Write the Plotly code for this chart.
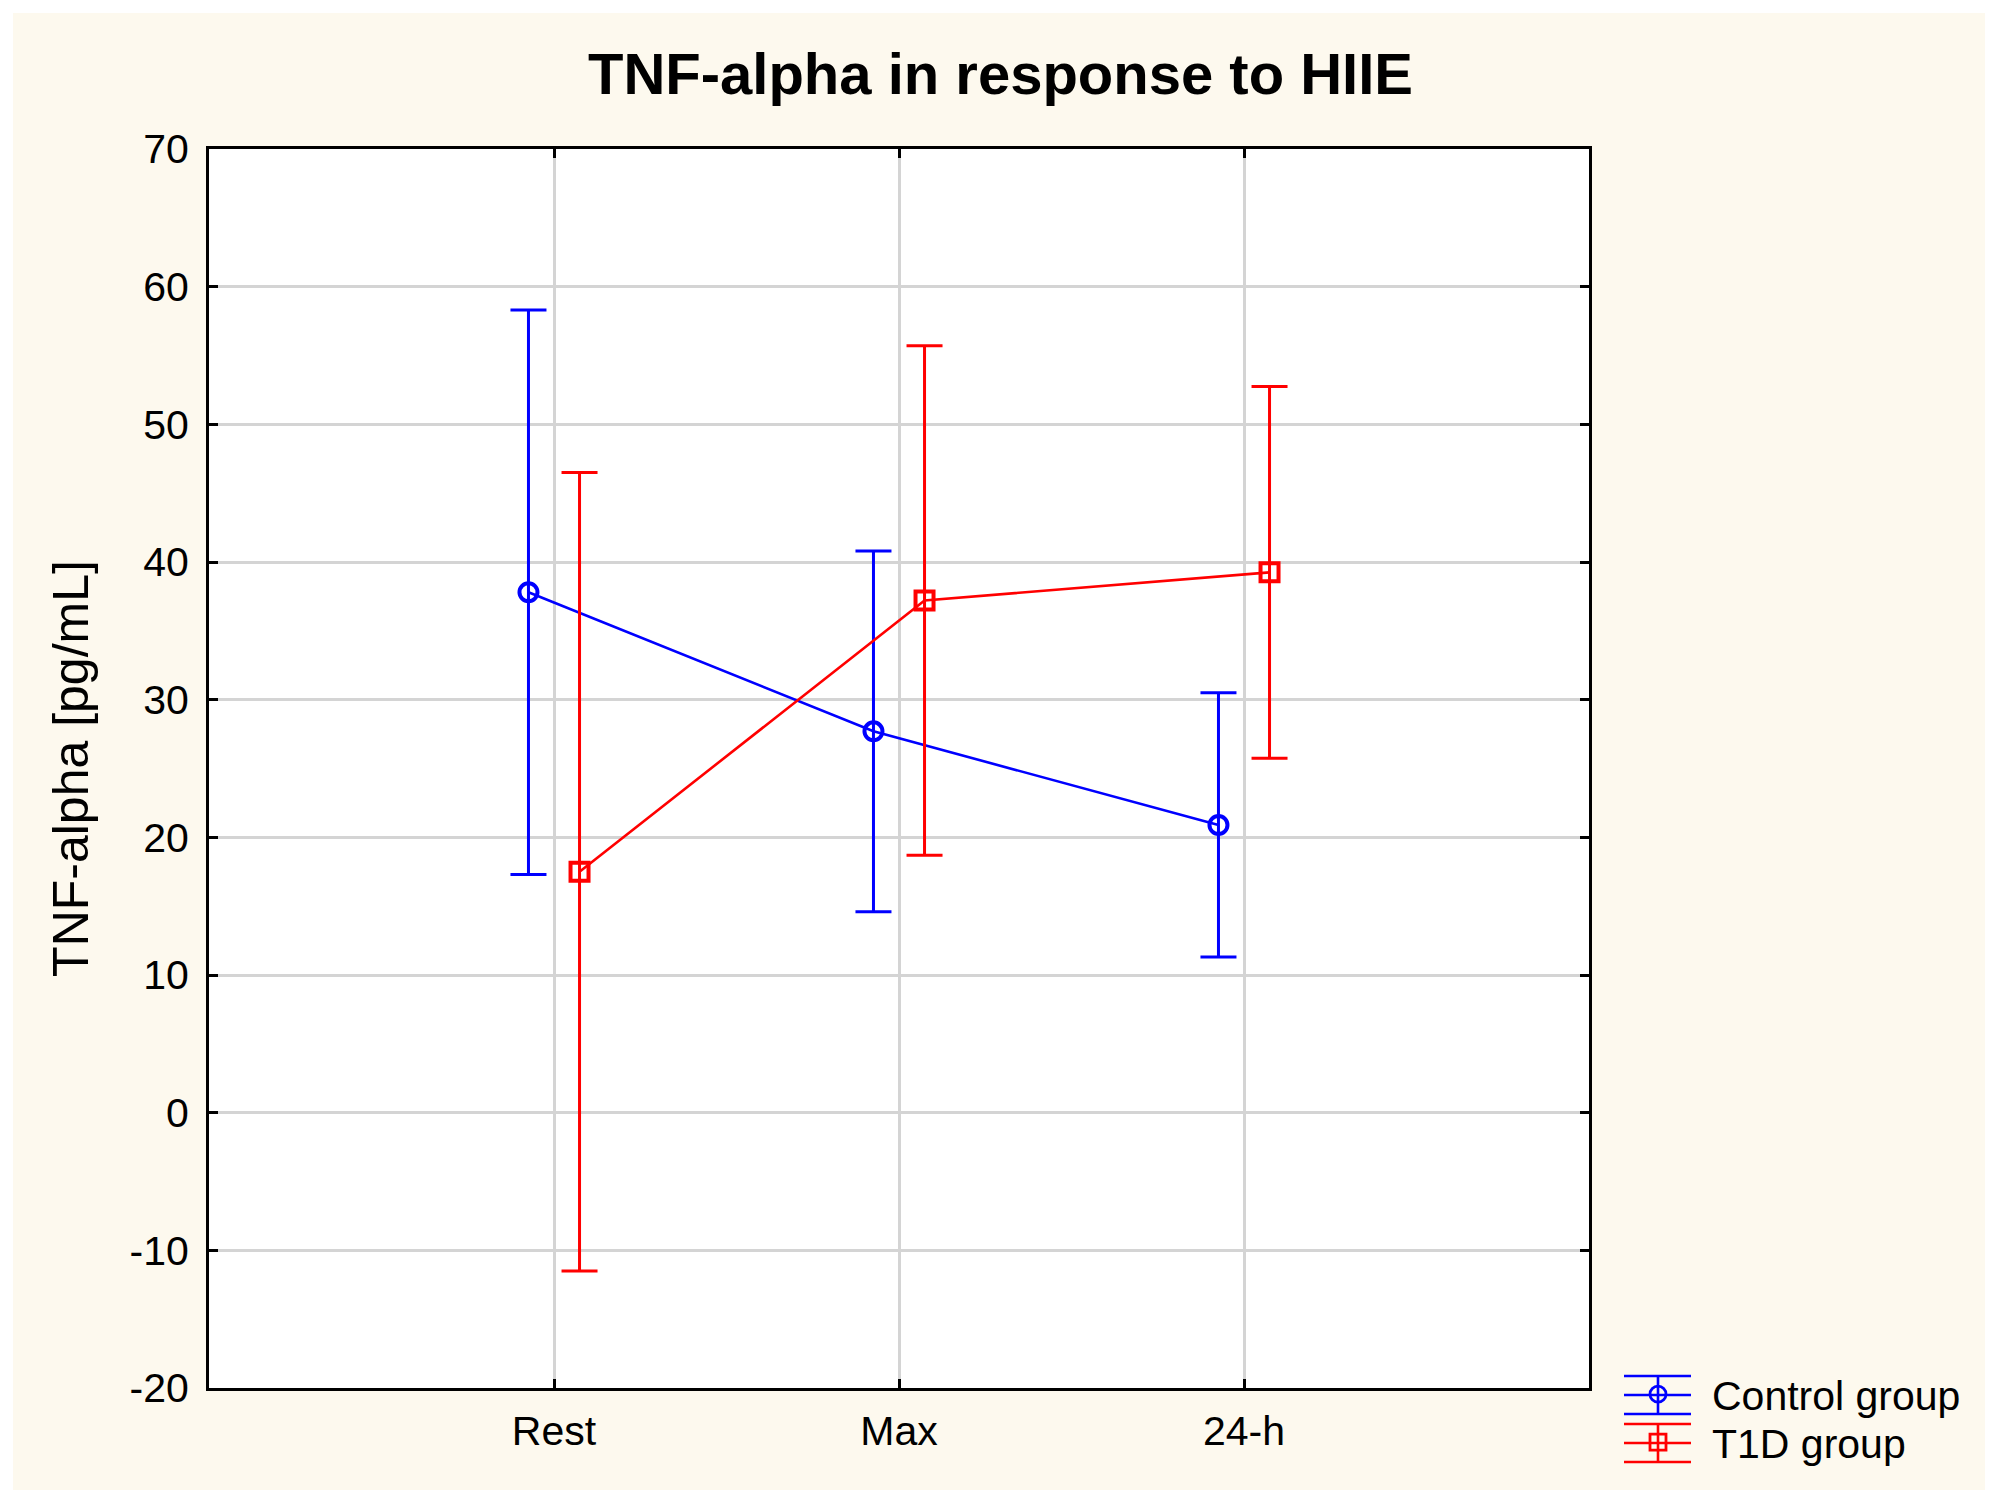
import plotly.graph_objects as go

# ---- data ----
categories = ["Rest", "Max", "24-h"]
control_mean = [37.8, 27.7, 20.9]
control_err = [20.5, 13.1, 9.6]
t1d_mean = [17.5, 37.2, 39.25]
t1d_err = [29.0, 18.5, 13.5]
y_ticks = [-20, -10, 0, 10, 20, 30, 40, 50, 60, 70]
y_tick_labels = ["-20", "-10", "0", "10", "20", "30", "40", "50", "60", "70"]

# ---- layout geometry (px) ----
W, H = 2001, 1506
PL, PR, PT, PB = 209, 1589, 149, 1388
pw, ph = PR - PL, PB - PT

def px_x(px):
    return (px - PL) / pw

def px_y(py):
    return (PB - py) / ph

BLUE = "#0000FF"
RED = "#FF0000"
FONT = "Liberation Sans, Arial, sans-serif"

pos = list(range(1, len(categories) + 1))
OFF = 0.074
x_ctrl = [p - OFF for p in pos]
x_t1d = [p + OFF for p in pos]

series = [
    ("Control group", x_ctrl, control_mean, control_err, BLUE, "circle-open", "legend"),
    ("T1D group", x_t1d, t1d_mean, t1d_err, RED, "square-open", "legend2"),
]

fig = go.Figure()
for name, xs, ys, errs, col, sym, leg in series:
    fig.add_trace(go.Scatter(
        x=xs, y=ys, name=name, mode="lines+markers", showlegend=False, legendgroup=name,
        line=dict(color=col, width=2.6),
        marker=dict(symbol=sym, size=18, color=col, line=dict(width=4, color=col)),
        error_y=dict(type="data", array=errs, visible=True, color=col, thickness=3, width=18),
    ))
    # legend entry (marker only; error-bar glyph lines added as shapes below)
    fig.add_trace(go.Scatter(
        x=[None], y=[None], name=name, mode="markers", legendgroup=name, legend=leg,
        marker=dict(symbol=sym, size=16, color=col, line=dict(width=2.8, color=col)),
    ))

# beige page panel and white plotting area
fig.add_shape(type="rect", xref="paper", yref="paper", layer="below",
              x0=px_x(13), x1=px_x(1985), y0=px_y(1490), y1=px_y(13),
              fillcolor="#FDF9EE", line=dict(width=0))
fig.add_shape(type="rect", xref="paper", yref="paper", layer="below",
              x0=0, x1=1, y0=0, y1=1, fillcolor="white", line=dict(width=0))

# legend icons (error-bar style glyphs)
ICON_X0, ICON_X1, ICON_XC, ICON_H = 1624, 1691, 1658, 19
for yc, col in [(1395, BLUE), (1443, RED)]:
    for dy in (-ICON_H, 0, ICON_H):
        fig.add_shape(type="line", xref="paper", yref="paper",
                      x0=px_x(ICON_X0), x1=px_x(ICON_X1), y0=px_y(yc + dy), y1=px_y(yc + dy),
                      line=dict(color=col, width=2.6))
    fig.add_shape(type="line", xref="paper", yref="paper",
                  x0=px_x(ICON_XC), x1=px_x(ICON_XC), y0=px_y(yc - ICON_H), y1=px_y(yc + ICON_H),
                  line=dict(color=col, width=2.6))

legend_common = dict(xanchor="left", yanchor="top", bgcolor="rgba(0,0,0,0)",
                     borderwidth=0, itemwidth=98, font=dict(size=41, family=FONT))

fig.update_layout(
    width=W, height=H,
    margin=dict(l=PL, r=W - PR, t=PT, b=H - PB, pad=0),
    paper_bgcolor="white", plot_bgcolor="white",
    font=dict(family=FONT, size=41, color="black"),
    title=dict(text="<b>TNF-alpha in response to HIIE</b>", x=0.5, xref="container",
               y=1 - 74 / H, yref="container", xanchor="center", yanchor="middle",
               font=dict(family=FONT, size=58, color="black")),
    xaxis=dict(range=[0, len(categories) + 1], tickmode="array", tickvals=pos, ticktext=categories,
               showgrid=True, gridcolor="#D4D4D4", gridwidth=3, zeroline=False,
               showline=True, linecolor="black", linewidth=3, mirror="ticks",
               ticks="inside", ticklen=9, tickwidth=3, tickcolor="black",
               ticklabelstandoff=5, tickfont=dict(size=41)),
    yaxis=dict(range=[-20, 70], tickmode="array", tickvals=y_ticks, ticktext=y_tick_labels,
               showgrid=True, gridcolor="#D4D4D4", gridwidth=3, zeroline=False,
               showline=True, linecolor="black", linewidth=3, mirror="ticks",
               ticks="inside", ticklen=9, tickwidth=3, tickcolor="black",
               ticklabelstandoff=9, tickfont=dict(size=41),
               title=dict(text="TNF-alpha [pg/mL]", standoff=26, font=dict(size=50))),
    legend=dict(x=px_x(1604), y=px_y(1361), **legend_common),
    legend2=dict(x=px_x(1604), y=px_y(1409), **legend_common),
    showlegend=True,
)

fig.write_html("out.html", config={"displayModeBar": False},
               post_script="document.body.style.margin='0';")
